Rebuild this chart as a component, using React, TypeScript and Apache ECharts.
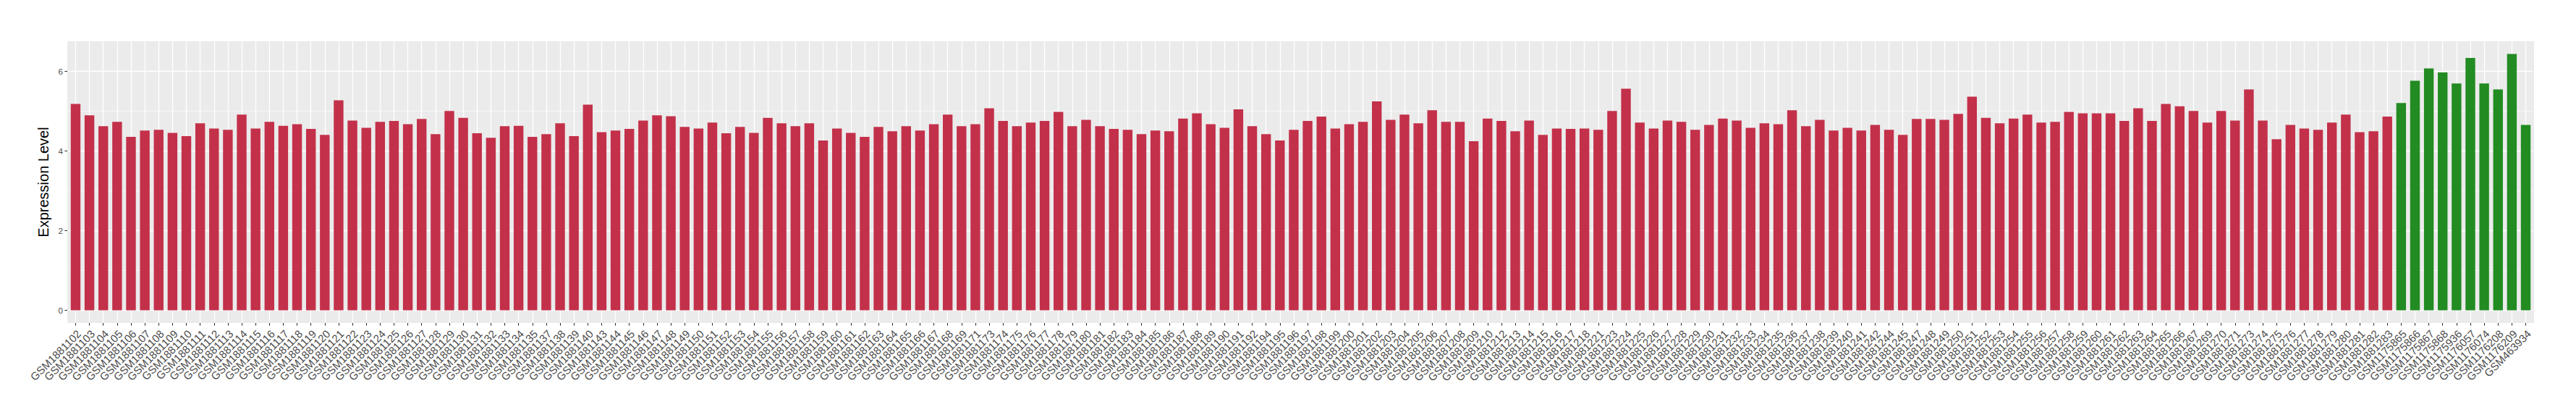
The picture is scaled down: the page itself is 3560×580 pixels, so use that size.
import React, { useEffect, useRef } from "react";
import * as echarts from "echarts";

const redSamples: string[] = [
  "GSM1881102", "GSM1881103", "GSM1881104", "GSM1881105", "GSM1881106", "GSM1881107", "GSM1881108", "GSM1881109", "GSM1881110", "GSM1881111",
  "GSM1881112", "GSM1881113", "GSM1881114", "GSM1881115", "GSM1881116", "GSM1881117", "GSM1881118", "GSM1881119", "GSM1881120", "GSM1881121",
  "GSM1881122", "GSM1881123", "GSM1881124", "GSM1881125", "GSM1881126", "GSM1881127", "GSM1881128", "GSM1881129", "GSM1881130", "GSM1881131",
  "GSM1881132", "GSM1881133", "GSM1881134", "GSM1881135",
  "GSM1881137", "GSM1881138", "GSM1881139", "GSM1881140",
  "GSM1881143", "GSM1881144", "GSM1881145", "GSM1881146", "GSM1881147", "GSM1881148", "GSM1881149", "GSM1881150", "GSM1881151", "GSM1881152",
  "GSM1881153", "GSM1881154", "GSM1881155", "GSM1881156", "GSM1881157", "GSM1881158", "GSM1881159", "GSM1881160", "GSM1881161", "GSM1881162",
  "GSM1881163", "GSM1881164", "GSM1881165", "GSM1881166", "GSM1881167", "GSM1881168", "GSM1881169",
  "GSM1881171",
  "GSM1881173", "GSM1881174", "GSM1881175", "GSM1881176", "GSM1881177", "GSM1881178", "GSM1881179", "GSM1881180", "GSM1881181", "GSM1881182",
  "GSM1881183", "GSM1881184", "GSM1881185", "GSM1881186", "GSM1881187", "GSM1881188", "GSM1881189", "GSM1881190", "GSM1881191", "GSM1881192",
  "GSM1881194", "GSM1881195", "GSM1881196", "GSM1881197", "GSM1881198", "GSM1881199", "GSM1881200", "GSM1881201", "GSM1881202", "GSM1881203",
  "GSM1881204", "GSM1881205", "GSM1881206", "GSM1881207", "GSM1881208", "GSM1881209", "GSM1881210",
  "GSM1881212", "GSM1881213", "GSM1881214", "GSM1881215", "GSM1881216", "GSM1881217", "GSM1881218",
  "GSM1881221",
  "GSM1881223", "GSM1881224", "GSM1881225", "GSM1881226", "GSM1881227", "GSM1881228", "GSM1881229", "GSM1881230", "GSM1881231", "GSM1881232",
  "GSM1881233", "GSM1881234", "GSM1881235", "GSM1881236", "GSM1881237", "GSM1881238", "GSM1881239", "GSM1881240", "GSM1881241", "GSM1881242",
  "GSM1881244", "GSM1881245",
  "GSM1881247", "GSM1881248", "GSM1881249", "GSM1881250", "GSM1881251", "GSM1881252", "GSM1881253", "GSM1881254", "GSM1881255", "GSM1881256",
  "GSM1881257", "GSM1881258", "GSM1881259", "GSM1881260", "GSM1881261", "GSM1881262", "GSM1881263", "GSM1881264", "GSM1881265", "GSM1881266",
  "GSM1881267",
  "GSM1881269", "GSM1881270", "GSM1881271",
  "GSM1881273", "GSM1881274", "GSM1881275", "GSM1881276", "GSM1881277", "GSM1881278", "GSM1881279", "GSM1881280", "GSM1881281", "GSM1881282",
  "GSM1881283",
];

const redValues: number[] = [
  5.18, 4.89, 4.62, 4.73, 4.35, 4.51, 4.53, 4.45, 4.37, 4.69,
  4.56, 4.53, 4.91, 4.56, 4.73, 4.63, 4.67, 4.55, 4.40, 5.27,
  4.76, 4.58, 4.73, 4.75, 4.67, 4.80, 4.42, 5.00, 4.83, 4.44,
  4.33, 4.62, 4.63, 4.35,
  4.42, 4.69, 4.37, 5.16,
  4.47, 4.51, 4.55, 4.76, 4.89, 4.87, 4.60, 4.56, 4.71, 4.44,
  4.60, 4.45, 4.83, 4.69, 4.62, 4.69, 4.26, 4.56, 4.45, 4.35,
  4.60, 4.49, 4.62, 4.51, 4.67, 4.91, 4.62,
  4.67,
  5.07, 4.75, 4.62, 4.71, 4.75, 4.98, 4.62, 4.78, 4.62, 4.55,
  4.53, 4.42, 4.51, 4.49, 4.81, 4.94, 4.67, 4.58, 5.04, 4.62,
  4.42, 4.26, 4.53, 4.75, 4.86, 4.56, 4.67, 4.73, 5.24, 4.78,
  4.91, 4.69, 5.02, 4.73, 4.73, 4.24, 4.81,
  4.75, 4.49, 4.76, 4.40, 4.56, 4.55, 4.56,
  4.53,
  5.00, 5.56, 4.71, 4.56, 4.76, 4.73, 4.53, 4.65, 4.81, 4.76,
  4.58, 4.69, 4.67, 5.02, 4.62, 4.78, 4.51, 4.58, 4.51, 4.65,
  4.53, 4.40,
  4.80, 4.80, 4.78, 4.93, 5.36, 4.83, 4.69, 4.81, 4.91, 4.71,
  4.73, 4.98, 4.94, 4.94, 4.94, 4.75, 5.07, 4.75, 5.18, 5.12,
  5.00,
  4.71, 5.00, 4.76,
  5.54, 4.76, 4.29, 4.65, 4.56, 4.53, 4.71, 4.91, 4.47, 4.49,
  4.86,
];

const greenSamples: string[] = [
  "GSM1175865", "GSM1175866", "GSM1175867", "GSM1175868", "GSM1175936",
  "GSM1176057", "GSM1176074", "GSM1176208", "GSM1176209", "GSM463934",
];
const greenValues: number[] = [5.20, 5.76, 6.07, 5.97, 5.69, 6.33, 5.69, 5.54, 6.43, 4.65];

const yMajorTicks: number[] = [0, 2, 4, 6];
const yMinorTicks: number[] = [1, 3, 5];
const yTitle = "Expression Level";

const RED = "#C3304A";
const GREEN = "#228B22";
const FONT = "'Liberation Sans', Arial, Helvetica, sans-serif";

export default function App() {
  const ref = useRef<HTMLDivElement>(null);

  useEffect(() => {
    if (!ref.current) return;
    const chart = echarts.init(ref.current, null, { renderer: "svg" });

    const categories = [...redSamples, ...greenSamples];
    const data = [
      ...redValues.map((v) => ({ value: v, itemStyle: { color: RED } })),
      ...greenValues.map((v) => ({ value: v, itemStyle: { color: GREEN } })),
    ];

    const panelLeft = 93;
    const panelRight = 3502;
    const panelTop = 57;
    const panelBottom = 446;
    const n = categories.length;
    const step = (panelRight - panelLeft) / (n - 1 + 1.2);
    const gridLeft = panelLeft + 0.1 * step;
    const gridWidth = n * step;
    const yMin = -0.32;
    const yMax = 6.75;

    chart.setOption({
      animation: false,
      textStyle: { fontFamily: FONT },
      graphic: [
        {
          type: "rect",
          z: -10,
          silent: true,
          shape: { x: panelLeft, y: panelTop, width: panelRight - panelLeft, height: panelBottom - panelTop },
          style: { fill: "#EBEBEB" },
        },
      ],
      grid: {
        left: gridLeft,
        top: panelTop,
        width: gridWidth,
        height: panelBottom - panelTop,
        containLabel: false,
        outerBoundsMode: "none",
      },
      xAxis: {
        type: "category",
        data: categories,
        boundaryGap: true,
        axisLine: { show: false, onZero: false },
        axisTick: {
          show: true,
          alignWithLabel: true,
          interval: 0,
          length: 3.7,
          lineStyle: { color: "#333333", width: 1.07 },
        },
        axisLabel: {
          interval: 0,
          rotate: 45,
          fontSize: 15,
          color: "#4D4D4D",
          fontFamily: FONT,
          verticalAlign: "top",
          padding: [3, 4, 0, 0],
          margin: 2,
        },
        splitLine: {
          show: true,
          interval: 0,
          alignWithLabel: true,
          lineStyle: { color: "#FFFFFF", width: 1.3 },
        },
      },
      yAxis: [
        {
          type: "value",
          min: yMin,
          max: yMax,
          offset: gridLeft - panelLeft,
          axisLine: { show: false, onZero: false },
          axisTick: {
            show: true,
            length: 3.7,
            customValues: yMajorTicks,
            lineStyle: { color: "#333333", width: 1.07 },
          },
          axisLabel: {
            customValues: yMajorTicks,
            fontSize: 11.7,
            color: "#4D4D4D",
            fontFamily: FONT,
            margin: 6,
          },
          splitLine: { show: true, lineStyle: { color: "#FFFFFF", width: 1.3 } },
          name: yTitle,
          nameLocation: "middle",
          nameGap: 20,
          nameTextStyle: { fontSize: 20, color: "#000000", fontFamily: FONT, fontWeight: "normal" },
        },
        {
          type: "value",
          min: yMin,
          max: yMax,
          position: "left",
          axisLine: { show: false, onZero: false },
          axisTick: { show: false, customValues: yMinorTicks },
          axisLabel: { show: false, customValues: yMinorTicks },
          splitLine: { show: true, lineStyle: { color: "#FFFFFF", width: 0.6 } },
        },
      ],
      series: [
        {
          type: "bar",
          data,
          barWidth: "70%",
          yAxisIndex: 0,
        },
      ],
    });

    return () => {
      chart.dispose();
    };
  }, []);

  return (
    <div
      ref={ref}
      style={{ position: "absolute", left: 0, top: 0, width: 3560, height: 580 }}
    />
  );
}
